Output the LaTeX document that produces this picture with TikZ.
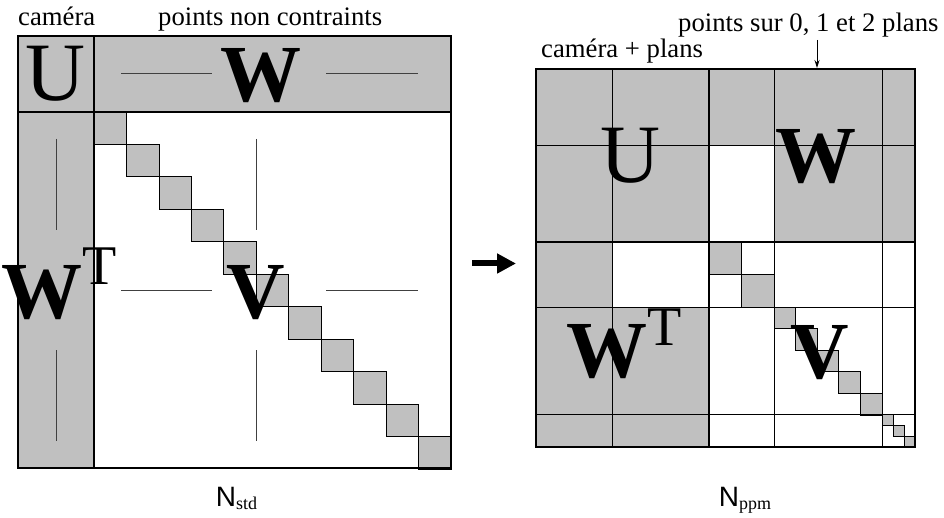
\documentclass[tikz,border=0pt]{standalone}
\usepackage{fontspec}
\setmainfont{Liberation Serif}
\newfontfamily\sansN{Liberation Sans}
\usetikzlibrary{arrows.meta}
\definecolor{cellgray}{RGB}{192,192,192}
\newcommand{\supTee}[2]{\kern#1\raisebox{#2}{\mdseries\fontsize{56}{56}\selectfont T}}
\begin{document}
\begin{tikzpicture}[x=1pt,y=-1pt,
  bigl/.style={font=\fontsize{83}{83}\selectfont, inner sep=0pt, anchor=base},
  bigb/.style={font=\fontsize{81}{81}\selectfont\bfseries, inner sep=0pt, anchor=base},
  lbl/.style={font=\fontsize{26.7}{28}\selectfont, inner sep=0pt, anchor=base west},
  nlbl/.style={inner sep=0pt, anchor=base},
  thinln/.style={black!75, line width=0.9pt},
  gridln/.style={black, line width=0.9pt},
  heavy/.style={black, line width=2pt},
  sq/.style={fill=cellgray, draw=black, line width=0.8pt}]
\useasboundingbox (0,0) rectangle (944,518);

% ---------- left matrix ----------
\fill[cellgray] (18,36) rectangle (451,112);
\fill[cellgray] (18,112) rectangle (94,468);
\foreach \i in {0,...,10}
  \filldraw[sq] ({94+32.45*\i},{112+32.45*\i}) rectangle ++(32.45,32.45);
% thin dashes
\draw[thinln] (121,73) -- (212,73);
\draw[thinln] (326,73) -- (418,73);
\draw[thinln] (56,139) -- (56,230);
\draw[thinln] (56,350) -- (56,441);
\draw[thinln] (256,139) -- (256,230);
\draw[thinln] (256,350) -- (256,441);
\draw[thinln] (121,290) -- (212,290);
\draw[thinln] (326,290) -- (418,290);
% borders
\draw[heavy] (18,36) rectangle (451,468);
\draw[heavy] (18,112) -- (451,112);
\draw[heavy] (94,36) -- (94,468);
% letters
\node[bigl] (lU) at (55,101) {U};
\node[bigb] (lW) at (260.5,101.5) {W};
\node[bigb, anchor=base west] (lWT) at (1,318) {W\supTee{0pt}{33pt}};
\node[bigb] (lV) at (255.5,318) {V};
% labels
\node[lbl] (lcam) at (18,26) {caméra};
\node[lbl] (lpts) at (158,26) {points non contraints};
\node[nlbl] (nstd) at (236.5,506) {\sansN\fontsize{28}{30}\selectfont N\raisebox{-3pt}{\rmfamily\fontsize{18}{18}\selectfont std}};

% ---------- arrow ----------
\coordinate (aS) at (472,263.5);
\coordinate (aE) at (516,263.5);
\draw[line width=6pt, -{Triangle[length=19pt,width=19pt]}] (aS) -- (aE);

% ---------- right matrix ----------
\fill[cellgray] (536,69) rectangle (915,242);
\fill[white] (709,145) rectangle (774,242);
\fill[cellgray] (536,242) rectangle (709,447);
\fill[white] (612,242) rectangle (709,307);
\foreach \i in {0,1}
  \filldraw[sq] ({709+32.5*\i},{242+32.5*\i}) rectangle ++(32.5,32.5);
\foreach \i in {0,...,4}
  \filldraw[sq] ({774+21.6*\i},{307+21.6*\i}) rectangle ++(21.6,21.6);
\foreach \i in {0,1,2}
  \filldraw[sq] ({882+11*\i},{414+11*\i}) rectangle ++(11,11);
% thin grid
\foreach \x in {612,774,882}
  \draw[gridln] (\x,69) -- (\x,447);
\foreach \y in {145,307,414}
  \draw[gridln] (536,\y) -- (915,\y);
% thick
\draw[heavy] (536,69) rectangle (915,447);
\draw[heavy] (709,69) -- (709,447);
\draw[heavy] (536,242) -- (915,242);
% letters
\node[bigl] (rU) at (630,183) {U};
\node[bigb] (rW) at (816,183) {W};
\node[bigb, anchor=base west] (rWT) at (566,377) {W\supTee{0pt}{32pt}};
\node[bigb] (rV) at (820,378) {V};
% labels
\node[lbl] (rcam) at (541,58) {caméra + plans};
\node[lbl] (rpts) at (678,32) {points sur 0, 1 et 2 plans};
\coordinate (pA) at (817,40);
\coordinate (pB) at (817,68);
\draw[line width=0.9pt, -{Stealth[length=8pt,width=5pt]}] (pA) -- (pB);
\node[nlbl] (nppm) at (745,506) {\sansN\fontsize{28}{30}\selectfont N\raisebox{-3pt}{\rmfamily\fontsize{18}{18}\selectfont ppm}};
\end{tikzpicture}
\end{document}
